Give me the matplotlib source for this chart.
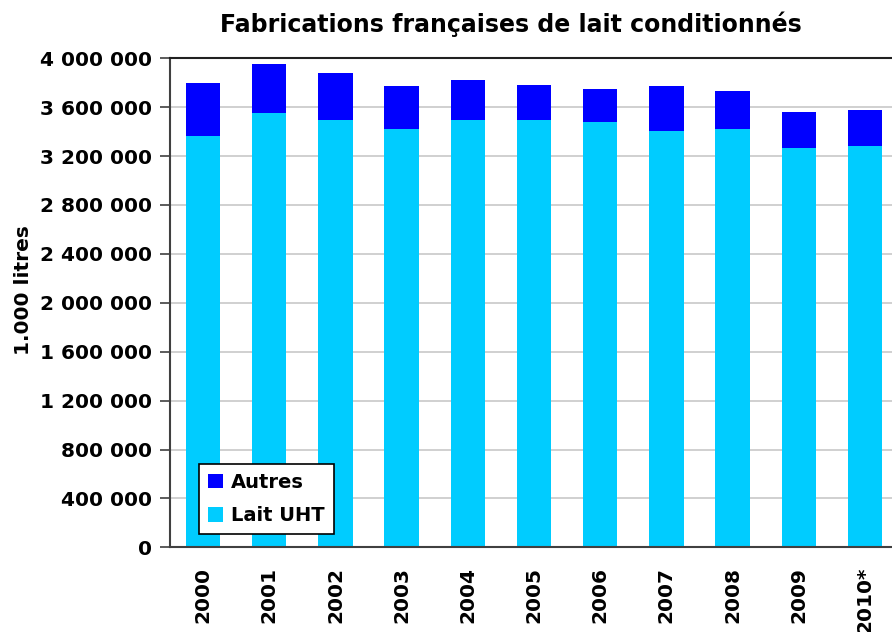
import matplotlib
matplotlib.use("Agg")
import matplotlib.pyplot as plt
from matplotlib.ticker import FuncFormatter

years = ["2000", "2001", "2002", "2003", "2004", "2005", "2006", "2007", "2008", "2009", "2010*"]
lait_uht = [3364000, 3555000, 3495000, 3422000, 3495000, 3495000, 3479000, 3405000, 3422000, 3266000, 3283000]
total = [3798000, 3953000, 3880000, 3774000, 3823000, 3781000, 3748000, 3774000, 3732000, 3560000, 3577000]
autres = [t - u for t, u in zip(total, lait_uht)]

fig = plt.figure(figsize=(8.92, 6.32), dpi=100)
ax = fig.add_axes([0.1906, 0.134, 0.8161, 0.7738])

x = range(len(years))
ax.bar(x, lait_uht, width=0.52, color="#00CCFF", label="Lait UHT", zorder=2)
ax.bar(x, autres, width=0.52, bottom=lait_uht, color="#0000FF", label="Autres", zorder=2)

ax.set_xlim(-0.5, len(years) - 0.5)
ax.set_ylim(0, 4000000)
ax.set_yticks(range(0, 4000001, 400000))
ax.yaxis.set_major_formatter(FuncFormatter(lambda v, p: f"{int(v):,}".replace(",", " ")))
ax.set_xticks(list(x))
ax.set_xticklabels(years, rotation=90, fontsize=14.5, fontweight="bold")
ax.tick_params(axis="x", length=0, pad=14)
ax.tick_params(axis="y", length=7, width=1.2, color="#404040", labelsize=14.5, pad=6)
for lab in ax.get_yticklabels():
    lab.set_fontweight("bold")

ax.grid(axis="y", color="#C8C8C8", linewidth=1.2, zorder=0)
ax.spines["right"].set_visible(False)
ax.spines["top"].set_color("#202020")
ax.spines["left"].set_color("#404040")
ax.spines["bottom"].set_color("#404040")
for s in ["top", "left", "bottom"]:
    ax.spines[s].set_linewidth(1.5)

handles, labels = ax.get_legend_handles_labels()
leg = ax.legend(handles[::-1], labels[::-1], loc="lower left", bbox_to_anchor=(0.04, 0.027),
                prop={"weight": "bold", "size": 14}, frameon=True, fancybox=False,
                framealpha=1, edgecolor="black", handlelength=0.8, handleheight=0.8,
                handletextpad=0.4, borderpad=0.45, labelspacing=0.75, borderaxespad=0)
leg.get_frame().set_linewidth(1.2)

fig.text(511 / 892, 1 - 24 / 632, "Fabrications françaises de lait conditionnés",
         ha="center", va="center", fontsize=17, fontweight="bold")
fig.text(24 / 892, 1 - 290 / 632, "1.000 litres", rotation=90,
         ha="center", va="center", fontsize=14.5, fontweight="bold")

fig.savefig("out.png", dpi=100)
